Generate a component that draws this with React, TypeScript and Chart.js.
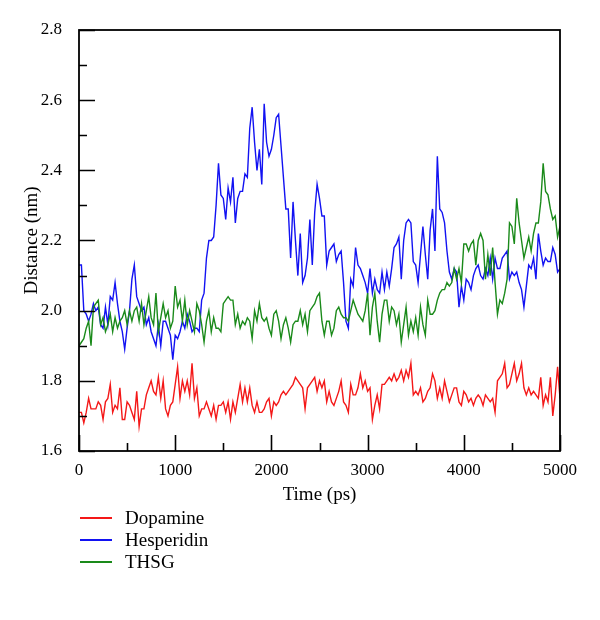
import React, { useEffect, useRef } from "react";
import { Chart, registerables } from "chart.js";

Chart.register(...registerables);

// Sampling interval of the trajectories (ps)
const STEP_PS = 25;

const dopamine = [
  1.71, 1.71, 1.68, 1.71, 1.75, 1.72, 1.72, 1.72, 1.74, 1.73,
  1.69, 1.74, 1.75, 1.79, 1.71, 1.73, 1.72, 1.78, 1.69, 1.69,
  1.74, 1.73, 1.71, 1.69, 1.77, 1.67, 1.72, 1.72, 1.76, 1.78,
  1.80, 1.77, 1.76, 1.81, 1.75, 1.80, 1.72, 1.70, 1.73, 1.74,
  1.79, 1.84, 1.75, 1.80, 1.77, 1.80, 1.76, 1.85, 1.75, 1.78,
  1.70, 1.72, 1.72, 1.74, 1.72, 1.70, 1.73, 1.69, 1.73, 1.73,
  1.74, 1.71, 1.74, 1.69, 1.74, 1.71, 1.75, 1.79, 1.74, 1.78,
  1.74, 1.78, 1.73, 1.71, 1.74, 1.71, 1.71, 1.72, 1.74, 1.75,
  1.70, 1.74, 1.73, 1.74, 1.76, 1.77, 1.76, 1.77, 1.78, 1.79,
  1.81, 1.80, 1.79, 1.78, 1.72, 1.78, 1.79, 1.80, 1.81, 1.77,
  1.80, 1.78, 1.80, 1.74, 1.77, 1.74, 1.73, 1.75, 1.77, 1.80,
  1.74, 1.73, 1.71, 1.79, 1.76, 1.76, 1.78, 1.82, 1.78, 1.80,
  1.77, 1.78, 1.69, 1.73, 1.76, 1.72, 1.79, 1.79, 1.80, 1.81,
  1.80, 1.82, 1.80, 1.81, 1.83, 1.80, 1.83, 1.81, 1.85, 1.76,
  1.77, 1.76, 1.78, 1.74, 1.75, 1.77, 1.78, 1.82, 1.80, 1.75,
  1.78, 1.75, 1.80, 1.77, 1.74, 1.76, 1.78, 1.78, 1.74, 1.73,
  1.77, 1.76, 1.74, 1.75, 1.73, 1.75, 1.76, 1.75, 1.73, 1.76,
  1.75, 1.74, 1.75, 1.71, 1.80, 1.81, 1.82, 1.85, 1.78, 1.79,
  1.82, 1.85, 1.80, 1.82, 1.85, 1.78, 1.76, 1.78, 1.76, 1.77,
  1.76, 1.75, 1.81, 1.73, 1.76, 1.74, 1.81, 1.70, 1.76, 1.84,
  1.75,
];

const hesperidin = [
  2.13, 2.13, 2.00, 1.99, 1.97, 1.99, 2.02, 2.00, 2.01, 1.96,
  1.95, 2.01, 1.96, 2.04, 2.03, 2.08, 2.02, 1.97, 1.94, 1.89,
  1.95, 2.00, 2.09, 2.13, 2.04, 2.02, 2.00, 2.01, 1.96, 1.98,
  1.94, 1.92, 1.90, 1.96, 1.90, 1.97, 1.97, 1.95, 1.93, 1.86,
  1.93, 1.92, 1.94, 1.97, 1.95, 1.99, 1.97, 1.94, 1.95, 1.95,
  1.94, 2.03, 2.05, 2.15, 2.20, 2.20, 2.21, 2.30, 2.42, 2.33,
  2.32, 2.26, 2.35, 2.31, 2.38, 2.25, 2.32, 2.34, 2.34, 2.39,
  2.38, 2.52, 2.58, 2.48, 2.40, 2.46, 2.36, 2.59, 2.48, 2.44,
  2.46, 2.50, 2.55, 2.56, 2.47, 2.38, 2.29, 2.29, 2.15, 2.31,
  2.20, 2.10, 2.22, 2.08, 2.10, 2.15, 2.26, 2.13, 2.28, 2.36,
  2.32, 2.27, 2.27, 2.13, 2.17, 2.18, 2.19, 2.14, 2.16, 2.17,
  2.08, 1.97, 1.95, 2.09, 2.07, 2.18, 2.13, 2.12, 2.10, 2.08,
  2.05, 2.12, 2.05, 2.09, 2.06, 2.05, 2.11, 2.06, 2.11, 2.07,
  2.12, 2.18, 2.19, 2.21, 2.09, 2.20, 2.25, 2.26, 2.25, 2.14,
  2.13, 2.08, 2.16, 2.24, 2.16, 2.09, 2.23, 2.29, 2.17, 2.44,
  2.29, 2.28, 2.25, 2.17, 2.11, 2.09, 2.12, 2.11, 2.01, 2.07,
  2.03, 2.09, 2.08, 2.06, 2.10, 2.12, 2.13, 2.10, 2.09, 2.12,
  2.10, 2.15, 2.09, 2.15, 2.12, 2.12, 2.15, 2.16, 2.17, 2.09,
  2.11, 2.10, 2.11, 2.08, 2.06, 2.01, 2.07, 2.13, 2.12, 2.15,
  2.09, 2.22, 2.17, 2.13, 2.15, 2.14, 2.14, 2.18, 2.16, 2.11,
  2.12,
];

const thsg = [
  1.90, 1.91, 1.92, 1.95, 1.97, 1.90, 2.01, 2.02, 2.03, 1.96,
  1.98, 1.94, 1.96, 1.99, 1.94, 1.98, 1.95, 1.97, 1.98, 2.00,
  1.96, 2.00, 1.97, 2.00, 2.01, 1.97, 2.02, 1.96, 2.00, 2.04,
  1.98, 1.96, 2.05, 1.94, 1.98, 2.02, 1.98, 2.00, 1.95, 1.97,
  2.07, 2.01, 2.03, 1.97, 2.03, 1.96, 2.00, 1.97, 1.94, 2.02,
  2.00, 1.96, 1.91, 1.97, 2.00, 1.94, 1.98, 1.95, 1.95, 1.94,
  2.02, 2.03, 2.04, 2.03, 2.03, 1.96, 1.99, 1.95, 1.97, 1.96,
  1.98, 1.97, 1.92, 2.00, 1.97, 2.02, 1.98, 1.97, 1.98, 1.95,
  1.93, 1.99, 2.00, 1.97, 1.92, 1.96, 1.98, 1.95, 1.91, 1.96,
  1.97, 1.97, 2.00, 1.96, 1.99, 1.94, 2.00, 2.01, 2.02, 2.04,
  2.05, 1.97, 1.93, 1.97, 1.97, 1.93, 1.95, 2.00, 2.01, 1.99,
  1.98, 1.98, 1.97, 2.00, 2.03, 2.01, 1.99, 1.98, 1.97, 2.00,
  2.05, 1.93, 2.01, 2.05, 1.97, 1.91, 1.99, 2.03, 2.03, 1.97,
  2.01, 2.00, 1.96, 1.99, 1.91, 1.96, 2.01, 1.93, 1.97, 1.94,
  1.98, 1.93, 2.01, 1.96, 1.93, 2.03, 1.99, 1.99, 2.00, 2.03,
  2.05, 2.06, 2.06, 2.08, 2.07, 2.08, 2.12, 2.09, 2.12, 2.08,
  2.19, 2.19, 2.17, 2.19, 2.20, 2.13, 2.20, 2.22, 2.20, 2.09,
  2.16, 2.10, 2.18, 2.08, 1.99, 2.03, 2.02, 2.05, 2.09, 2.25,
  2.24, 2.19, 2.32, 2.25, 2.20, 2.15, 2.18, 2.21, 2.17, 2.22,
  2.25, 2.25, 2.31, 2.42, 2.34, 2.33, 2.29, 2.26, 2.27, 2.21,
  2.24,
];

const seriesNames = ["Dopamine", "Hesperidin", "THSG"];
const seriesColors = ["#f41818", "#1212f2", "#1a8a1a"];

const X_MIN = 0;
const X_MAX = 5000;
const X_MINOR_STEP = 500;
const X_MAJOR_STEP = 1000;
const Y_MIN = 1.6;
const Y_MAX = 2.8;
const Y_MINOR_STEP = 0.1;

const FONT = "'Liberation Serif', 'Times New Roman', serif";

const times = dopamine.map((_, i) => i * STEP_PS);

const isYMajor = (v: number) => Math.round(v * 10) % 2 === 0;

const frameAndTicks = {
  id: "frameAndTicks",
  afterDraw(chart: any) {
    const { ctx, chartArea: a, scales } = chart;
    const xs = scales.x;
    const ys = scales.y;
    ctx.save();
    ctx.strokeStyle = "#000";
    ctx.lineWidth = 1.6;
    ctx.beginPath();
    xs.ticks.forEach((t: any) => {
      const px = Math.round(xs.getPixelForValue(t.value)) + 0.5;
      const len = t.value % X_MAJOR_STEP === 0 ? 16 : 8;
      ctx.moveTo(px, a.bottom);
      ctx.lineTo(px, a.bottom - len);
    });
    ys.ticks.forEach((t: any) => {
      const py = Math.round(ys.getPixelForValue(t.value)) + 0.5;
      const len = isYMajor(t.value) ? 16 : 8;
      ctx.moveTo(a.left, py);
      ctx.lineTo(a.left + len, py);
    });
    ctx.stroke();
    ctx.lineWidth = 1.8;
    ctx.strokeRect(a.left, a.top, a.right - a.left, a.bottom - a.top);
    ctx.restore();
  },
};

export default function App() {
  const canvasRef = useRef<HTMLCanvasElement | null>(null);

  useEffect(() => {
    const canvas = canvasRef.current;
    if (!canvas) return;
    const seriesValues = [dopamine, hesperidin, thsg];
    const chart = new Chart(canvas, {
      type: "line",
      data: {
        datasets: seriesValues.map((vals, si) => ({
          label: seriesNames[si],
          data: times.map((t, i) => ({ x: t, y: vals[i] })),
          borderColor: seriesColors[si],
          backgroundColor: seriesColors[si],
          borderWidth: 1.4,
          pointRadius: 0,
          tension: 0,
          fill: false,
          order: 2 - si,
        })),
      },
      options: {
        responsive: false,
        devicePixelRatio: 1,
        animation: false,
        layout: { padding: { left: 0, top: 30, right: 40, bottom: 0 } },
        plugins: {
          legend: { display: false },
          tooltip: { enabled: false },
        },
        scales: {
          x: {
            type: "linear",
            min: X_MIN,
            max: X_MAX,
            grid: { display: false },
            border: { display: false },
            ticks: {
              stepSize: X_MINOR_STEP,
              autoSkip: false,
              maxRotation: 0,
              padding: 1,
              color: "#000",
              font: { family: FONT, size: 17 },
              callback: (v: any) => (Number(v) % X_MAJOR_STEP === 0 ? String(v) : ""),
            },
            title: {
              display: true,
              text: "Time (ps)",
              color: "#000",
              font: { family: FONT, size: 19 },
              padding: { top: 0, bottom: 114 },
            },
            afterFit: (s: any) => {
              s.height = 169;
            },
          },
          y: {
            type: "linear",
            min: Y_MIN,
            max: Y_MAX,
            grid: { display: false },
            border: { display: false },
            ticks: {
              stepSize: Y_MINOR_STEP,
              autoSkip: false,
              padding: 9,
              color: "#000",
              font: { family: FONT, size: 17 },
              callback: (v: any) => (isYMajor(Number(v)) ? Number(v).toFixed(1) : ""),
            },
            title: {
              display: true,
              text: "Distance (nm)",
              color: "#000",
              font: { family: FONT, size: 19 },
              padding: { top: 21, bottom: 0 },
            },
            afterFit: (s: any) => {
              s.width = 79;
            },
          },
        },
      },
      plugins: [frameAndTicks],
    });
    return () => chart.destroy();
  }, []);

  const legendRows = [518, 540, 562];

  return (
    <div style={{ position: "absolute", left: 0, top: 0, width: 600, height: 620, background: "#fff" }}>
      <canvas ref={canvasRef} width={600} height={620} style={{ display: "block", width: 600, height: 620 }} />
      {seriesNames.map((name, i) => (
        <div key={name}>
          <div
            style={{
              position: "absolute",
              left: 80,
              top: legendRows[i] - 1,
              width: 32,
              height: 1.6,
              background: seriesColors[i],
            }}
          />
          <div
            style={{
              position: "absolute",
              left: 125,
              top: legendRows[i] - 12,
              height: 24,
              lineHeight: "24px",
              fontFamily: FONT,
              fontSize: 19,
              color: "#000",
              whiteSpace: "nowrap",
            }}
          >
            {name}
          </div>
        </div>
      ))}
    </div>
  );
}
